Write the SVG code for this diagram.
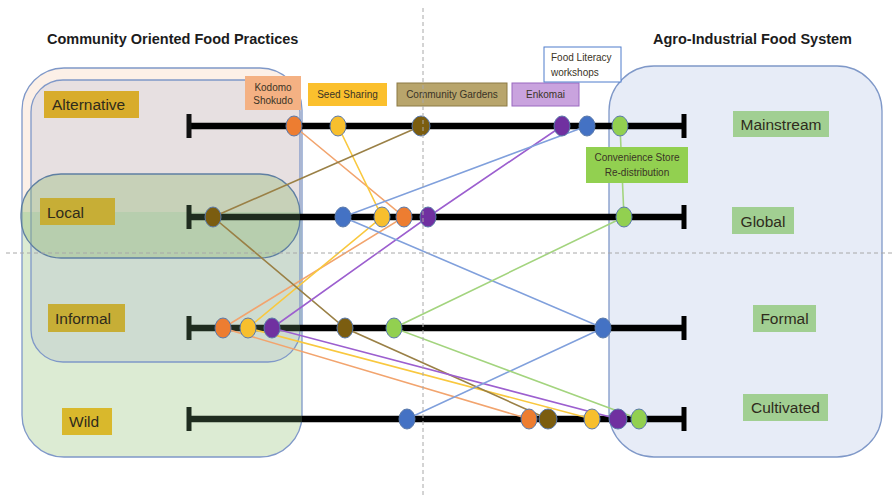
<svg xmlns="http://www.w3.org/2000/svg" width="894" height="495" viewBox="0 0 894 495">
  <defs>
    <linearGradient id="leftFill" x1="0" y1="0" x2="0" y2="1">
      <stop offset="0" stop-color="#fcf0e7"/>
      <stop offset="0.37" stop-color="#fcf0e7"/>
      <stop offset="0.37" stop-color="#dcebd3"/>
      <stop offset="1" stop-color="#dcebd3"/>
    </linearGradient>
  </defs>
  <style>
    .title { font-family: "Liberation Sans", Arial, sans-serif; font-weight: bold; font-size: 14.5px; fill: #1c1c1c; }
    .tag { font-family: "Liberation Sans", Arial, sans-serif; font-size: 10px; fill: #3a3426; }
    .lbl { font-family: "Liberation Sans", Arial, sans-serif; font-size: 15.5px; fill: #2f2b1c; }
    .mid { text-anchor: middle; }
    .region { stroke: #7f98c8; stroke-width: 1.3; }
    .axis { stroke: #000; stroke-width: 6.5; fill: none; }
    .axis-in { stroke: #1f2c1f; stroke-width: 6.5; fill: none; }
    .cap { stroke-width: 5; fill: none; }
    .dot { stroke: #5a79aa; stroke-width: 1; }
    .link { fill: none; stroke-width: 1.6; }
    .guide { stroke: #a8a8a8; stroke-width: 1; stroke-dasharray: 4 3; fill: none; }
  </style>

  <rect width="894" height="495" fill="#ffffff"/>

  <!-- community side regions -->
  <g id="community-regions">
    <rect class="region" x="22" y="68" width="280" height="389" rx="42" fill="url(#leftFill)"/>
    <rect class="region" x="31" y="80" width="269" height="282" rx="32" fill="rgb(160,170,205)" fill-opacity="0.22"/>
    <rect x="21" y="174" width="279" height="84" rx="40" fill="rgb(140,180,110)" fill-opacity="0.35" stroke="#5f7fa2" stroke-width="1.3"/>
  </g>

  <!-- agro-industrial region -->
  <g id="industrial-region">
    <rect class="region" x="609" y="66" width="273" height="391" rx="45" fill="#e7ecf7"/>
  </g>

  <!-- spectrum axes -->
  <g id="axes">
    <line class="axis" x1="188" y1="126" x2="684" y2="126"/>
    <line class="cap" stroke="#111" x1="189" y1="114" x2="189" y2="138"/>
    <line class="cap" stroke="#000" x1="684" y1="114" x2="684" y2="138"/>

    <line class="axis" x1="300" y1="217" x2="684" y2="217"/>
    <line class="axis-in" x1="188" y1="217" x2="300" y2="217"/>
    <line class="cap" stroke="#1f2c1f" x1="189" y1="205" x2="189" y2="229"/>
    <line class="cap" stroke="#000" x1="684" y1="205" x2="684" y2="229"/>

    <line class="axis" x1="300" y1="328" x2="684" y2="328"/>
    <line class="axis-in" x1="188" y1="328" x2="300" y2="328"/>
    <line class="cap" stroke="#1f2c1f" x1="189" y1="316" x2="189" y2="340"/>
    <line class="cap" stroke="#000" x1="684" y1="316" x2="684" y2="340"/>

    <line class="axis" x1="302" y1="419" x2="684" y2="419"/>
    <line class="axis-in" x1="188" y1="419" x2="302" y2="419"/>
    <line class="cap" stroke="#1f2c1f" x1="189" y1="407" x2="189" y2="431"/>
    <line class="cap" stroke="#000" x1="684" y1="407" x2="684" y2="431"/>
  </g>

  <!-- links between positions of each practice -->
  <g id="connectors">
    <polyline class="link" stroke="#f2a46e" points="294,126 404,217 223,328 529,419"/>
    <polyline class="link" stroke="#f9c83e" points="338,126 382,217 248,328 592,419"/>
    <polyline class="link" stroke="#9a8046" points="421,126 213,217 345,328 548,419"/>
    <polyline class="link" stroke="#9c5fcf" points="562,126 428,217 272,328 618,419"/>
    <polyline class="link" stroke="#80a0dc" points="587,126 343,217 603,328 407,419"/>
    <polyline class="link" stroke="#a3d47e" points="620,126 624,217 394,328 639,419"/>
  </g>

  <!-- practices: markers on each axis plus their label -->
  <g id="kodomo-shokudo">
    <ellipse class="dot" fill="#ed7d31" cx="294" cy="126" rx="8" ry="10"/>
    <ellipse class="dot" fill="#ed7d31" cx="404" cy="217" rx="8" ry="10"/>
    <ellipse class="dot" fill="#ed7d31" cx="223" cy="328" rx="8" ry="10"/>
    <ellipse class="dot" fill="#ed7d31" cx="529" cy="419" rx="8" ry="10"/>
    <rect x="245" y="76" width="56" height="34" fill="#f4b183"/>
    <text class="tag mid" x="273" y="91" fill="#5c4033">Kodomo</text>
    <text class="tag mid" x="273" y="104" fill="#5c4033">Shokudo</text>
  </g>

  <g id="seed-sharing">
    <ellipse class="dot" fill="#f7bf2e" cx="338" cy="126" rx="8" ry="10"/>
    <ellipse class="dot" fill="#f7bf2e" cx="382" cy="217" rx="8" ry="10"/>
    <ellipse class="dot" fill="#f7bf2e" cx="248" cy="328" rx="8" ry="10"/>
    <ellipse class="dot" fill="#f7bf2e" cx="592" cy="419" rx="8" ry="10"/>
    <rect x="308" y="83" width="79" height="23" fill="#fbc02d"/>
    <text class="tag mid" x="347.5" y="98">Seed Sharing</text>
  </g>

  <g id="community-gardens">
    <ellipse class="dot" fill="#7b5d10" cx="421" cy="126" rx="9" ry="10"/>
    <ellipse class="dot" fill="#7b5d10" cx="213" cy="217" rx="8" ry="10"/>
    <ellipse class="dot" fill="#7b5d10" cx="345" cy="328" rx="8" ry="10"/>
    <ellipse class="dot" fill="#7b5d10" cx="548" cy="419" rx="9" ry="10"/>
    <rect x="397" y="83" width="110" height="23" fill="#b8a56c" stroke="#8c7a44" stroke-width="1"/>
    <text class="tag mid" x="452" y="98">Community Gardens</text>
  </g>

  <g id="enkomai">
    <ellipse class="dot" fill="#7030a0" cx="562" cy="126" rx="8" ry="10"/>
    <ellipse class="dot" fill="#7030a0" cx="428" cy="217" rx="8" ry="10"/>
    <ellipse class="dot" fill="#7030a0" cx="272" cy="328" rx="8" ry="10"/>
    <ellipse class="dot" fill="#7030a0" cx="618" cy="419" rx="9" ry="10"/>
    <rect x="512" y="83" width="67" height="23" fill="#c9a3de" stroke="#9a68c0" stroke-width="1"/>
    <text class="tag mid" x="545.5" y="98">Enkomai</text>
  </g>

  <g id="food-literacy">
    <ellipse class="dot" fill="#4472c4" cx="587" cy="126" rx="8" ry="10"/>
    <ellipse class="dot" fill="#4472c4" cx="343" cy="217" rx="8" ry="10"/>
    <ellipse class="dot" fill="#4472c4" cx="603" cy="328" rx="8" ry="10"/>
    <ellipse class="dot" fill="#4472c4" cx="407" cy="419" rx="8" ry="10"/>
    <rect x="544" y="47" width="77" height="35" fill="#ffffff" stroke="#4f7ccc" stroke-width="1"/>
    <text class="tag" x="551" y="61">Food Literacy</text>
    <text class="tag" x="551" y="75.5">workshops</text>
  </g>

  <g id="convenience-store">
    <ellipse class="dot" fill="#92d050" cx="620" cy="126" rx="8" ry="10"/>
    <ellipse class="dot" fill="#92d050" cx="624" cy="217" rx="8" ry="10"/>
    <ellipse class="dot" fill="#92d050" cx="394" cy="328" rx="8" ry="10"/>
    <ellipse class="dot" fill="#92d050" cx="639" cy="419" rx="8" ry="10"/>
    <rect x="586" y="147" width="102" height="36" fill="#92d050"/>
    <text class="tag mid" x="637" y="161" fill="#233018">Convenience Store</text>
    <text class="tag mid" x="637" y="175.5" fill="#233018">Re-distribution</text>
  </g>

  <!-- axis end labels -->
  <g id="label-alternative">
    <rect x="44" y="91" width="95" height="27" fill="#d8ac2b"/>
    <text class="lbl" x="52" y="110">Alternative</text>
  </g>
  <g id="label-local">
    <rect x="40" y="198" width="75" height="27" fill="#c7ae36"/>
    <text class="lbl" x="47" y="218">Local</text>
  </g>
  <g id="label-informal">
    <rect x="48" y="304" width="77" height="28" fill="#c7ae36"/>
    <text class="lbl" x="55" y="323.5">Informal</text>
  </g>
  <g id="label-wild">
    <rect x="62" y="408" width="50" height="27" fill="#d9b82c"/>
    <text class="lbl" x="69" y="427">Wild</text>
  </g>
  <g id="label-mainstream">
    <rect x="733" y="111" width="96" height="26" fill="#a1cf92"/>
    <text class="lbl mid" x="781" y="130">Mainstream</text>
  </g>
  <g id="label-global">
    <rect x="732" y="207" width="62" height="27" fill="#a1cf92"/>
    <text class="lbl mid" x="763" y="226.5">Global</text>
  </g>
  <g id="label-formal">
    <rect x="753" y="305" width="63" height="27" fill="#a1cf92"/>
    <text class="lbl mid" x="784.5" y="324">Formal</text>
  </g>
  <g id="label-cultivated">
    <rect x="743" y="394" width="85" height="27" fill="#a1cf92"/>
    <text class="lbl mid" x="785.5" y="413">Cultivated</text>
  </g>

  <!-- headings -->
  <text class="title" x="47" y="44">Community Oriented Food Practices</text>
  <text class="title" x="653" y="44">Agro-Industrial Food System</text>

  <!-- quadrant guides -->
  <g id="guides">
    <line class="guide" x1="423" y1="8" x2="423" y2="495"/>
    <line class="guide" x1="6" y1="253" x2="894" y2="253"/>
  </g>
</svg>
